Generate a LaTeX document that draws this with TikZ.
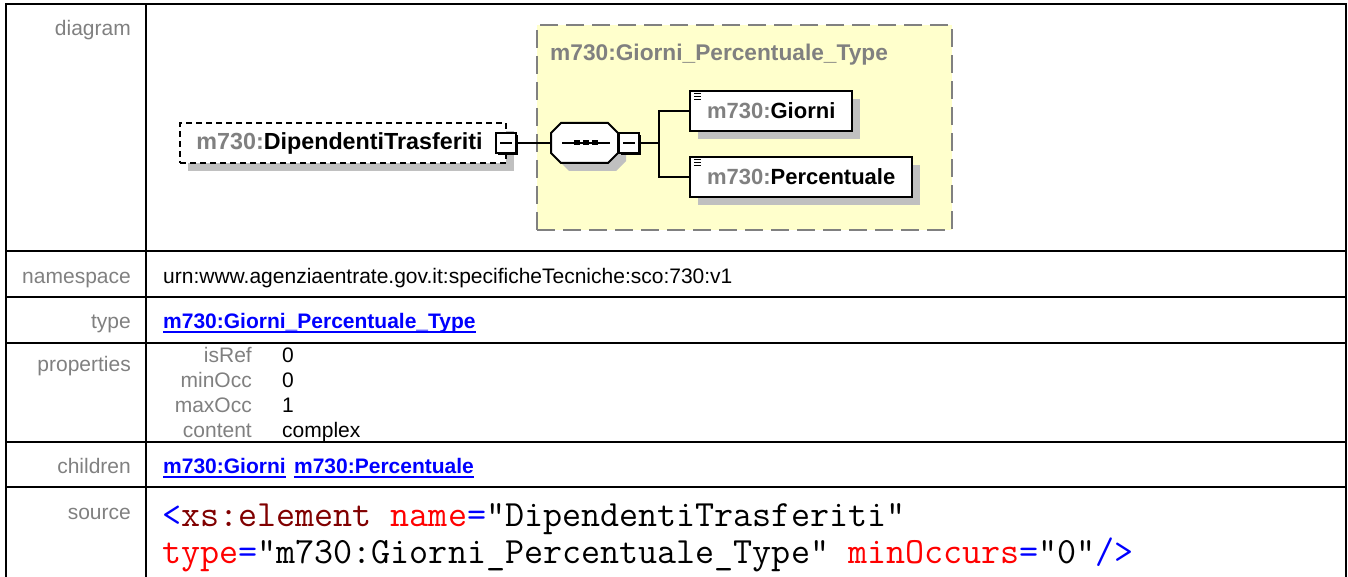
\documentclass[tikz,border=0pt]{standalone}
\usepackage{fontspec}
\setmainfont{Liberation Sans}
\usetikzlibrary{positioning,calc,shadows}
\definecolor{lblgray}{RGB}{128,128,128}
\definecolor{shadowgray}{RGB}{192,192,192}
\definecolor{typefill}{RGB}{255,255,204}
\definecolor{linkblue}{RGB}{0,0,255}
\definecolor{xmlred}{RGB}{255,0,0}
\definecolor{xmlmaroon}{RGB}{128,0,0}
\tikzset{
  tbl/.style={draw=black, line width=2.6pt},
  lbl/.style={anchor=mid east, inner sep=0pt, text=lblgray, font=\fontsize{21}{25}\selectfont},
  val/.style={anchor=mid west, inner sep=0pt, font=\fontsize{21}{25}\selectfont},
  lnk/.style={val, text=linkblue, font=\fontsize{21}{25}\selectfont\bfseries},
  ul/.style={draw=linkblue, line width=1.8pt},
  code/.style={anchor=base west, inner sep=0pt, font=\fontsize{37}{37}\selectfont\ttfamily},
  elem/.style={rectangle, draw=black, line width=2pt, dash pattern=on 6pt off 4pt, fill=white,
    minimum width=326pt, minimum height=40pt, inner sep=0pt, font=\fontsize{23.3}{27}\selectfont\bfseries,
    drop shadow={shadow xshift=8pt, shadow yshift=-8pt, fill=shadowgray, opacity=1}},
  child/.style={rectangle, draw=black, line width=2pt, fill=white, anchor=west,
    minimum height=40pt, inner xsep=17pt, inner ysep=0pt, font=\fontsize{22}{26}\selectfont\bfseries,
    drop shadow={shadow xshift=8pt, shadow yshift=-8pt, fill=shadowgray, opacity=1},
    path picture={\foreach \k in {3,6,9}
      \draw[black, line width=1pt] ([xshift=4pt, yshift=-\k pt]path picture bounding box.north west) -- ++(7pt,0pt);}},
  cmpbox/.style={rectangle, draw=black, line width=2.2pt, fill=white, minimum size=20pt, inner sep=0pt,
    drop shadow={shadow xshift=2pt, shadow yshift=-2pt, fill=black, opacity=1},
    path picture={\draw[black, line width=1.6pt] ([xshift=4pt]path picture bounding box.west)
      -- ([xshift=-4pt]path picture bounding box.east);}},
  seqbox/.style={rectangle, minimum width=67pt, minimum height=40pt, inner sep=0pt, outer sep=0pt},
  octo/.style={draw=black, line width=2pt, fill=white},
  typebox/.style={rectangle, draw=lblgray, line width=2pt, dash pattern=on 18pt off 8pt, fill=typefill,
    minimum width=415pt, minimum height=205pt, inner sep=0pt},
  conn/.style={draw=black, line width=2.3pt},
}

\begin{document}
\begin{tikzpicture}[x=1pt, y=-1pt]
  \useasboundingbox (0,0) rectangle (1348,577);
  \clip (0,0) rectangle (1348,577);
  % table grid
  \draw[tbl] (6,4) rectangle (1346,640);
  \draw[tbl] (146,4) -- (146,640);
  \foreach \yy in {251,297,343,442,487}
    \draw[tbl] (6,\yy) -- (1346,\yy);
  % row labels
  \node[lbl] (ldiag) at (131,33) {diagram};
  \node[lbl] (lns) at (131,281) {namespace};
  \node[lbl] (ltype) at (131,326) {type};
  \node[lbl] (lprop) at (131,369) {properties};
  \node[lbl] (lchild) at (131,471) {children};
  \node[lbl] (lsrc) at (131,517) {source};
  % diagram
  \node[typebox] (tbox) at (744.5,127.5) {};
  \node[anchor=mid west, inner sep=0pt, text=lblgray, font=\fontsize{22.7}{26}\selectfont\bfseries]
    (ttl) at (550,58) {m730:Giorni\_Percentuale\_Type};
  \node[elem] (dip) at (343,143) {{\color{lblgray}m730:}DipendentiTrasferiti\hspace*{7pt}};
  \node[cmpbox] (dipmin) at (506,143) {};
  \node[seqbox] (seq) at (584.5,143) {};
  \fill[shadowgray] ($(seq.north west)+(18,8)$) -- ($(seq.north east)+(-2,8)$) -- ($(seq.north east)+(8,18)$)
    -- ($(seq.south east)+(8,-2)$) -- ($(seq.south east)+(-2,8)$) -- ($(seq.south west)+(18,8)$)
    -- ($(seq.south west)+(8,-2)$) -- ($(seq.north west)+(8,18)$) -- cycle;
  \path[octo] ($(seq.north west)+(10,0)$) -- ($(seq.north east)+(-10,0)$) -- ($(seq.north east)+(0,10)$)
    -- ($(seq.south east)+(0,-10)$) -- ($(seq.south east)+(-10,0)$) -- ($(seq.south west)+(10,0)$)
    -- ($(seq.south west)+(0,-10)$) -- ($(seq.north west)+(0,10)$) -- cycle;
  \draw[conn] ($(seq.west)+(11,0)$) -- ($(seq.east)+(-8,0)$);
  \foreach \dx in {-8,1.5,10.5}
    \fill ($(seq.center)+(\dx,0)$) +(-3,-2.5) rectangle +(3,2.5);
  \node[cmpbox] (seqmin) at (629,143) {};
  \node[child] (giorni) at (689,111) {{\color{lblgray}m730:}Giorni};
  \node[child] (perc) at (689,177) {{\color{lblgray}m730:}Percentuale};
  \coordinate (fork) at (659,143);
  \draw[conn] (dipmin.east) -- (seq.west);
  \draw[conn] (seqmin.east) -- (fork);
  \draw[conn] (fork) |- (giorni.west);
  \draw[conn] (fork) |- (perc.west);
  % namespace and type
  \node[val] (ns) at (163,281) {urn:www.agenziaentrate.gov.it:specificheTecniche:sco:730:v1};
  \node[lnk] (typelnk) at (163,326) {m730:Giorni\_Percentuale\_Type};
  \draw[ul] ([yshift=-3pt]typelnk.base west) -- ([yshift=-3pt]typelnk.base east);
  % properties
  \foreach \nm/\vl [count=\i from 0] in {isRef/0,minOcc/0,maxOcc/1,content/complex} {
    \node[lbl] (pk\i) at (252,{360+25*\i}) {\nm};
    \node[val] (pv\i) at (282,{360+25*\i}) {\vl};
  }
  % children
  \node[lnk] (chg) at (163,471) {m730:Giorni};
  \node[lnk, right=8pt of chg] (chp) {m730:Percentuale};
  \draw[ul] ([yshift=-3pt]chg.base west) -- ([yshift=-3pt]chg.base east);
  \draw[ul] ([yshift=-3pt]chp.base west) -- ([yshift=-3pt]chp.base east);
  % source
  \node[code] (src1) at (162,526) {\textcolor{linkblue}{<}\textcolor{xmlmaroon}{xs:element}
    \textcolor{xmlred}{name}\textcolor{linkblue}{=}"DipendentiTrasferiti"};
  \node[code] (src2) at (162,563) {\textcolor{xmlred}{type}\textcolor{linkblue}{=}"m730:Giorni\_Percentuale\_Type"
    \textcolor{xmlred}{minOccurs}\textcolor{linkblue}{=}"0"\textcolor{linkblue}{/>}};
\end{tikzpicture}
\end{document}
